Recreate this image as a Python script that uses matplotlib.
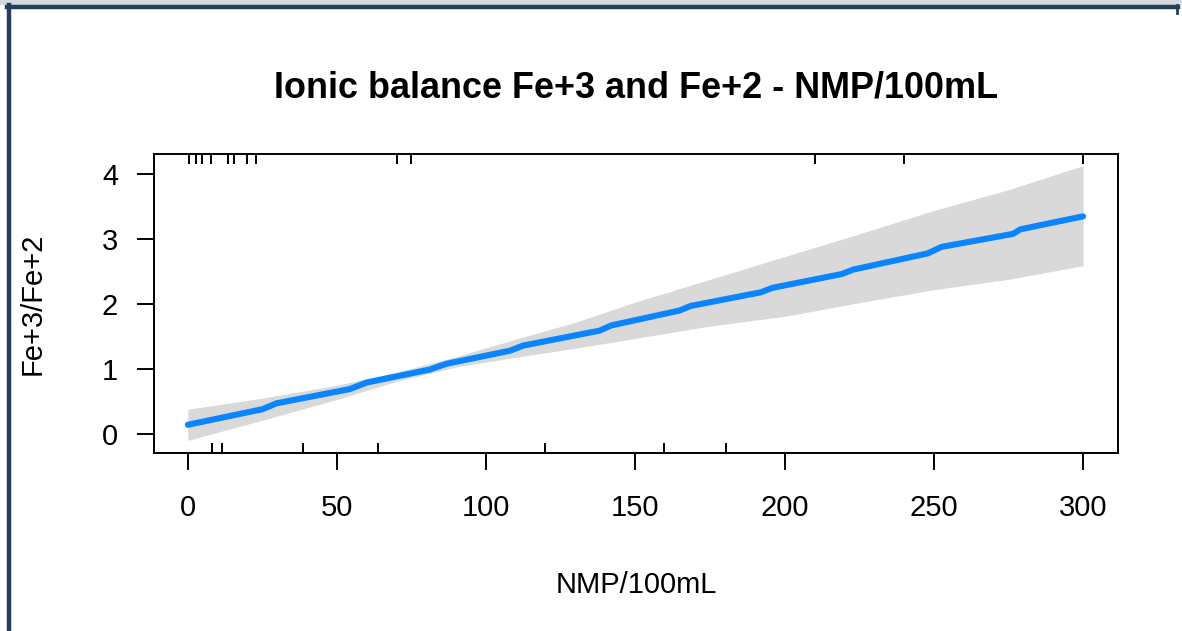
import matplotlib
matplotlib.use("Agg")
import matplotlib.pyplot as plt
from matplotlib.lines import Line2D
from matplotlib.patches import Rectangle
import matplotlib.transforms as mtransforms

plt.rcParams['font.family'] = ['Liberation Sans', 'DejaVu Sans']

# ---- data ----
line_x = [0, 25, 29.7, 54.3, 59.9, 81, 86.7, 107.9, 112.4, 138, 141.9, 164.8,
          168.5, 192, 196, 219, 223, 248, 252.6, 276.5, 279, 300]
line_y = [0.14, 0.38, 0.47, 0.69, 0.79, 0.99, 1.08, 1.28, 1.36, 1.59, 1.67, 1.90,
          1.97, 2.18, 2.25, 2.46, 2.53, 2.78, 2.88, 3.08, 3.15, 3.35]

band_x = [0, 25, 50, 70, 90, 110, 130, 150, 175, 200, 225, 250, 275, 300]
band_upper = [0.38, 0.55, 0.75, 0.95, 1.19, 1.46, 1.72, 2.03, 2.38, 2.73, 3.08,
              3.44, 3.76, 4.13]
band_lower = [-0.10, 0.21, 0.53, 0.81, 1.03, 1.18, 1.32, 1.47, 1.66, 1.81, 2.02,
              2.22, 2.38, 2.59]

rug_top = [0.4, 2.9, 4.8, 7.9, 13.6, 15.4, 19.9, 23.0, 70, 74.8, 210, 240, 300]
rug_bottom = [8.0, 11.6, 38.6, 63.6, 119.8, 159.7, 180.3]

x_ticks = [0, 50, 100, 150, 200, 250, 300]
y_ticks = [0, 1, 2, 3, 4]

title = "Ionic balance Fe+3 and Fe+2 - NMP/100mL"
x_label = "NMP/100mL"
y_label = "Fe+3/Fe+2"

# ---- layout ----
W, H = 1182, 631
fig = plt.figure(figsize=(W / 100, H / 100), dpi=100)
fig.patch.set_facecolor("white")

ax_l, ax_r, ax_t, ax_b = 153.5, 1118.3, 154.0, 452.7
ax = fig.add_axes([ax_l / W, 1 - ax_b / H, (ax_r - ax_l) / W, (ax_b - ax_t) / H])

ax.fill_between(band_x, band_lower, band_upper, color="#d9d9d9", linewidth=0, zorder=1)
ax.plot(line_x, line_y, color="#0a84ff", linewidth=4.4, solid_capstyle="round",
        solid_joinstyle="round", zorder=3)

trans = mtransforms.blended_transform_factory(ax.transData, ax.transAxes)
rug_len = 10.0 / (ax_b - ax_t)
ax.vlines(rug_top, 1 - rug_len, 1, transform=trans, color="black", linewidth=1.4, zorder=4)
ax.vlines(rug_bottom, 0, rug_len, transform=trans, color="black", linewidth=1.4, zorder=4)

ax.set_xlim(-11.5, 311.8)
ax.set_ylim(-0.29, 4.31)
ax.set_xticks(x_ticks)
ax.set_yticks(y_ticks)
ax.set_xticklabels([str(v) for v in x_ticks])
ax.set_yticklabels([str(v) for v in y_ticks])

for s in ax.spines.values():
    s.set_linewidth(1.4)
    s.set_color("black")

ax.tick_params(axis="both", direction="out", length=12.5, width=1.4, labelsize=21,
               colors="black")
ax.tick_params(axis="x", pad=17)
ax.tick_params(axis="y", pad=13)

# ---- texts ----
cx = (ax_l + ax_r) / 2 / W
fig.text(cx, 1 - 97 / H, title, ha="center", va="baseline", fontsize=25.9,
         fontweight="bold")
fig.text(cx, 1 - 593 / H, x_label, ha="center", va="baseline", fontsize=21)
fig.text(33 / W, 1 - ((ax_t + ax_b) / 2) / H, y_label, ha="center", va="center",
         rotation=90, fontsize=21)

# ---- frame ----
fig.patches.append(Rectangle((0, 1 - 5 / H), 1, 5 / H, transform=fig.transFigure,
                             facecolor="#d5d9de", edgecolor="none", zorder=0))
frame_col = "#243f5c"
fig.add_artist(Line2D([7 / W, 1178 / W], [1 - 7 / H, 1 - 7 / H], color=frame_col,
                      linewidth=3.2, transform=fig.transFigure))
fig.add_artist(Line2D([9.5 / W, 9.5 / W], [0, 1 - 5 / H], color=frame_col,
                      linewidth=3.2, transform=fig.transFigure))
fig.add_artist(Line2D([1177 / W, 1177 / W], [1 - 5 / H, 1 - 13 / H], color=frame_col,
                      linewidth=2.0, transform=fig.transFigure))

fig.savefig("out.png", dpi=100)
